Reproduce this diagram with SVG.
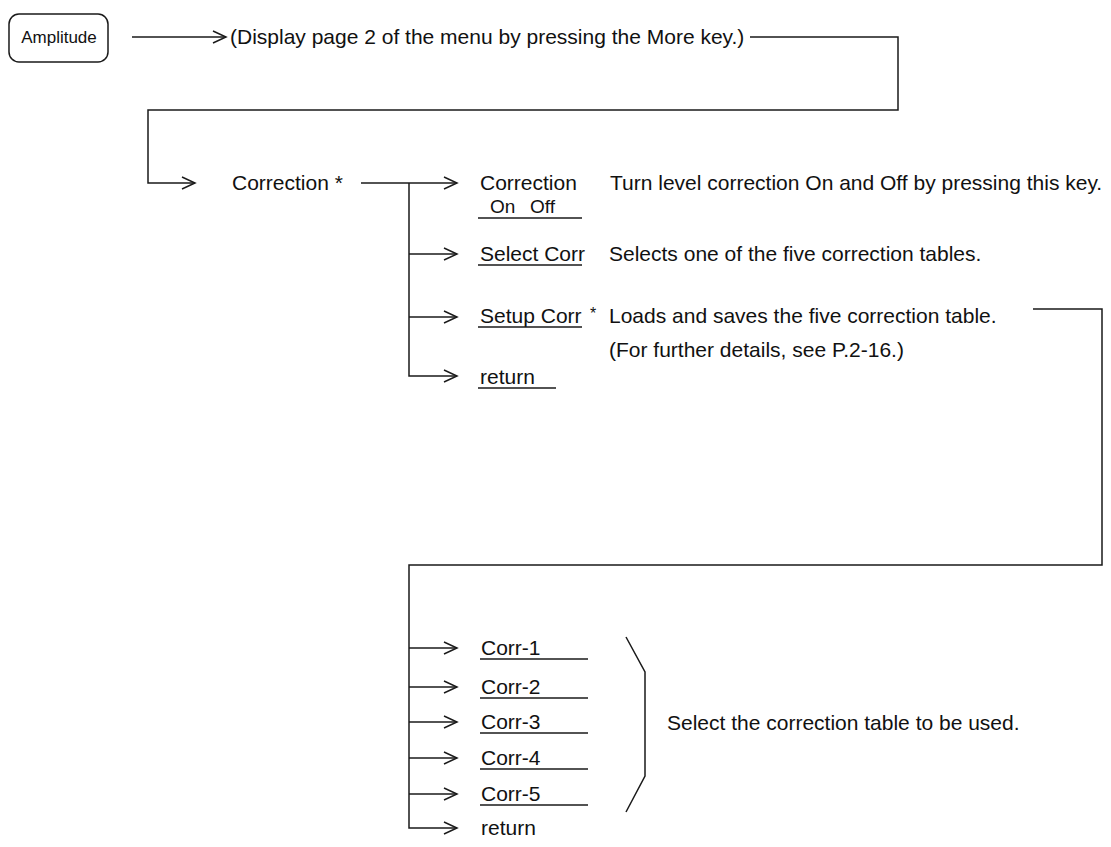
<svg xmlns="http://www.w3.org/2000/svg" width="1111" height="847" viewBox="0 0 1111 847">
<defs>
<marker id="ah" markerUnits="userSpaceOnUse" markerWidth="20" markerHeight="20" viewBox="-15 -10 20 20" refX="0" refY="0" orient="auto">
<path d="M-13,-6 L0,0 L-13,6" fill="none" stroke="#1a1a1a" stroke-width="1.5"/>
</marker>
</defs>
<style>
.t{font-family:"Liberation Sans",Arial,sans-serif;font-size:21px;fill:#111}
.c{fill:none;stroke:#1a1a1a;stroke-width:1.5}
.u{fill:none;stroke:#1a1a1a;stroke-width:1.4}
.a{fill:none;stroke:#1a1a1a;stroke-width:1.5;marker-end:url(#ah)}
</style>
<rect width="1111" height="847" fill="#fff"/>
<g id="connectors">
<line class="a" x1="132" y1="37" x2="226" y2="37"/>
<path class="a" d="M750,37 H898 V110 H148 V183 H195"/>
<line class="a" x1="361" y1="183" x2="457" y2="183"/>
<path class="a" d="M409,183 V376 H457"/>
<line class="a" x1="409" y1="254" x2="457" y2="254"/>
<line class="a" x1="409" y1="317" x2="457" y2="317"/>
<path class="a" d="M1033,309 H1102 V565 H409 V828 H457"/>
<line class="a" x1="409" y1="648" x2="457" y2="648"/>
<line class="a" x1="409" y1="687" x2="457" y2="687"/>
<line class="a" x1="409" y1="722" x2="457" y2="722"/>
<line class="a" x1="409" y1="758" x2="457" y2="758"/>
<line class="a" x1="409" y1="794" x2="457" y2="794"/>
<path class="c" d="M626,637 L645,672 V776 L626,812"/>
</g>
<g id="amplitude">
<rect x="9" y="14" width="99" height="48" rx="10" class="c"/>
<text class="t" x="59" y="43" text-anchor="middle" style="font-size:17px">Amplitude</text>
</g>
<g id="display-text">
<text class="t" x="230" y="44">(Display page 2 of the menu by pressing the More key.)</text>
</g>
<g id="correction-menu">
<text class="t" x="232" y="190">Correction *</text>
</g>
<g id="item-correction">
<text class="t" x="480" y="190">Correction</text>
<text class="t" x="490" y="213" style="font-size:19px">On</text>
<text class="t" x="530" y="213" style="font-size:19px">Off</text>
<line class="u" x1="478" y1="218" x2="582" y2="218"/>
<text class="t" x="610" y="190">Turn level correction On and Off by pressing this key.</text>
</g>
<g id="item-select">
<text class="t" x="480" y="261">Select Corr</text>
<line class="u" x1="478" y1="265" x2="582" y2="265"/>
<text class="t" x="609" y="261">Selects one of the five correction tables.</text>
</g>
<g id="item-setup">
<text class="t" x="480" y="323">Setup Corr</text>
<text class="t" x="590" y="319" style="font-size:16px">*</text>
<line class="u" x1="478" y1="327" x2="582" y2="327"/>
<text class="t" x="609" y="323">Loads and saves the five correction table.</text>
<text class="t" x="609" y="357">(For further details, see P.2-16.)</text>
</g>
<g id="item-return">
<text class="t" x="480" y="384">return</text>
<line class="u" x1="478" y1="388" x2="556" y2="388"/>
</g>
<g id="corr-items">
<text class="t" x="481" y="655">Corr-1</text>
<line class="u" x1="480" y1="659" x2="588" y2="659"/>
<text class="t" x="481" y="694">Corr-2</text>
<line class="u" x1="480" y1="698" x2="588" y2="698"/>
<text class="t" x="481" y="729">Corr-3</text>
<line class="u" x1="480" y1="733" x2="588" y2="733"/>
<text class="t" x="481" y="765">Corr-4</text>
<line class="u" x1="480" y1="769" x2="588" y2="769"/>
<text class="t" x="481" y="801">Corr-5</text>
<line class="u" x1="480" y1="805" x2="588" y2="805"/>
<text class="t" x="481" y="835">return</text>
<text class="t" x="667" y="730">Select the correction table to be used.</text>
</g>
</svg>
